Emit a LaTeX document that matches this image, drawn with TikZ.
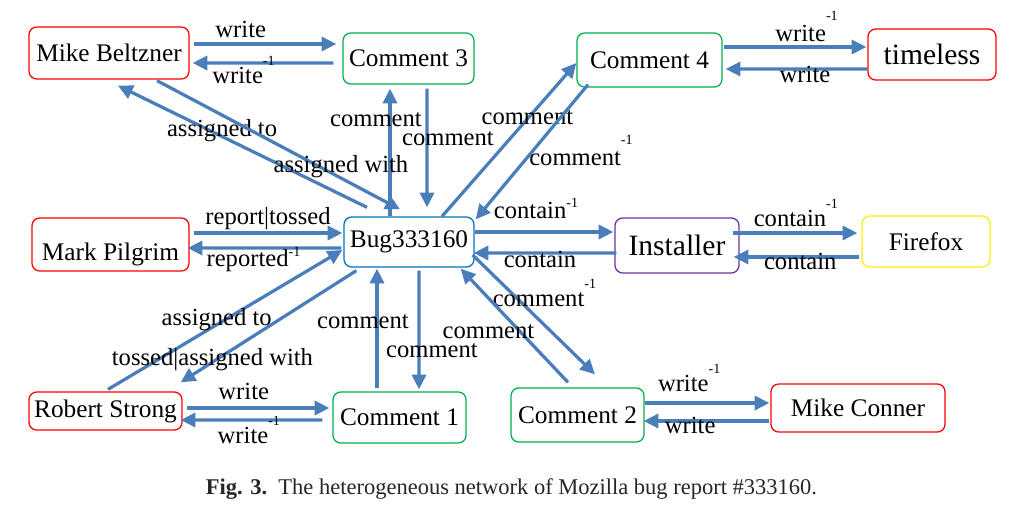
\documentclass[tikz,border=0pt]{standalone}
\usepackage{fontspec}
\setmainfont{Liberation Serif}
\usetikzlibrary{arrows.meta}

\definecolor{arrowblue}{RGB}{74,126,187}
\definecolor{boxred}{RGB}{255,0,0}
\definecolor{boxgreen}{RGB}{0,176,80}
\definecolor{boxpurple}{RGB}{112,48,160}
\definecolor{boxyellow}{RGB}{255,240,0}
\definecolor{boxblue}{RGB}{0,112,192}

% raised -1 after a label
\newcommand\inv[1][0.73em]{\rlap{\smash{\raisebox{#1}{\fontsize{10}{10}\selectfont -1}}}}

\begin{document}
\begin{tikzpicture}[x=0.025cm,y=-0.025cm,
  box/.style={draw,rounded corners=5.5pt,line width=0.9pt,inner sep=1pt,font=\fontsize{18}{20}\selectfont},
  big/.style={font=\fontsize{21}{23}\selectfont},
  lbl/.style={inner sep=0pt,font=\fontsize{17.5}{19}\selectfont},
  arr/.style={draw=arrowblue,line width=2.3pt,-{Triangle[length=10.5pt,width=10pt]}}]

\useasboundingbox (0,0) rectangle (1012,512);

% People
\node[box,draw=boxred,minimum width=4cm,minimum height=1.3cm] (mb) at (109,53) {Mike Beltzner};
\node[box,draw=boxred,big,minimum width=3.2cm,minimum height=1.275cm] (tl) at (932,54.5) {timeless};
\node[box,draw=boxred,minimum width=3.925cm,minimum height=1.325cm,text height=26pt,text depth=2.6pt] (mp) at (110.5,244.5) {Mark Pilgrim};
\node[box,draw=boxred,minimum width=3.825cm,minimum height=0.95cm] (rs) at (105.5,411) {Robert Strong};
\node[box,draw=boxred,minimum width=4.35cm,minimum height=1.2cm] (mc) at (858,408) {Mike Conner};

% Comments
\node[box,draw=boxgreen,minimum width=3.275cm,minimum height=1.275cm] (c3) at (408.5,58.5) {Comment 3};
\node[box,draw=boxgreen,minimum width=3.625cm,minimum height=1.35cm] (c4) at (649.5,60) {Comment 4};
\node[box,draw=boxgreen,minimum width=3.325cm,minimum height=1.275cm] (c1) at (399.5,417.5) {Comment 1};
\node[box,draw=boxgreen,minimum width=3.325cm,minimum height=1.35cm] (c2) at (577.5,415) {Comment 2};

% Bug, component, product
\node[box,draw=boxblue,minimum width=3.25cm,minimum height=1.25cm] (bug) at (409,242) {Bug333160};
\node[box,draw=boxpurple,big,minimum width=3.1cm,minimum height=1.375cm] (ins) at (677,245.5) {Installer};
\node[box,draw=boxyellow,minimum width=3.2cm,minimum height=1.275cm] (ff) at (926,241.5) {Firefox};

% Horizontal pairs
\draw[arr] ([shift={(4,-9)}]mb.east) -- node[lbl,pos=0.33,shift={(0,-15)}] {write} ([shift={(-6,-14.5)}]c3.west);
\draw[arr] ([shift={(-9,4.5)}]c3.west) -- node[lbl,pos=0.68,shift={(0,12)}] {write\inv} ([shift={(3,10)}]mb.east);
\draw[arr] ([shift={(1,-13)}]c4.east) -- node[lbl,pos=0.54,shift={(0,-14)}] {write\inv[0.85em]} ([shift={(-1,-7.5)}]tl.west);
\draw[arr] ([shift={(0,14.5)}]tl.west) -- node[lbl,pos=0.44,shift={(0,5)}] {write} ([shift={(3,9)}]c4.east);
\draw[arr] ([shift={(4,-11.5)}]mp.east) -- node[lbl,pos=0.5,shift={(0,-14)}] {report|tossed} ([shift={(-1,-9)}]bug.west);
\draw[arr] ([shift={(-2,6)}]bug.west) -- node[lbl,pos=0.61,shift={(0,13)}] {reported\inv[0.42em]} ([shift={(-2,3.5)}]mp.east);
\draw[arr] ([shift={(0,-10)}]bug.east) -- node[lbl,pos=0.4,shift={(0,-22)}] {contain\inv[0.42em]} ([shift={(-1,-13.5)}]ins.west);
\draw[arr] ([shift={(2,7.5)}]ins.west) -- node[lbl,pos=0.535,shift={(0,6)}] {contain} ([shift={(-1,11)}]bug.east);
\draw[arr] ([shift={(-7,-12.5)}]ins.east) -- node[lbl,pos=0.46,shift={(0,-15)}] {contain\inv} ([shift={(-4,-8.5)}]ff.west);
\draw[arr] ([shift={(-2,15.5)}]ff.west) -- node[lbl,pos=0.47,shift={(0,4)}] {contain} ([shift={(-6,11.5)}]ins.east);
\draw[arr] ([shift={(4,-3)}]rs.east) -- node[lbl,pos=0.4,shift={(0,-17)}] {write} ([shift={(-3,-9.5)}]c1.west);
\draw[arr] ([shift={(-10,2.5)}]c1.west) -- node[lbl,pos=0.56,shift={(0,15)}] {write\inv} ([shift={(-2,9)}]rs.east);
\draw[arr] ([shift={(0,-12)}]c2.east) -- node[lbl,pos=0.31,shift={(0,-20)}] {write\inv} ([shift={(-1,-5)}]mc.west);
\draw[arr] ([shift={(-1,13)}]mc.west) -- node[lbl,pos=0.63,shift={(0,4)}] {write} ([shift={(-1,6)}]c2.east);

% Around the bug
\draw[arr] ([shift={(-19,0)}]bug.north) -- node[lbl,pos=0.76,shift={(-14,0)}] {comment} ([shift={(-18.5,4)}]c3.south);
\draw[arr] ([shift={(18.5,4)}]c3.south) -- node[lbl,pos=0.42,shift={(21,0)}] {comment} ([shift={(18,-9)}]bug.north);
\draw[arr] ([shift={(33,0)}]bug.north) -- node[lbl,pos=0.643,shift={(-1,0)}] {comment} ([shift={(0,3)}]c4.west);
\draw[arr] ([shift={(-61.5,-3)}]c4.south) -- node[lbl,pos=0.551,shift={(49,0)}] {comment\inv[0.85em]} ([shift={(1,3)}]bug.north east);
\draw[arr] ([shift={(-42,-9)}]bug.north) -- node[lbl,pos=0.582,shift={(0,-6)}] {assigned to} ([shift={(9,6)}]mb.south);
\draw[arr] ([shift={(48,1)}]mb.south) -- node[lbl,pos=0.757,shift={(0,-11)}] {assigned with} ([shift={(-9,-7)}]bug.north);
\draw[arr] ([shift={(-22.5,-3)}]c1.north) -- node[lbl,pos=0.554,shift={(-14,0)}] {comment} ([shift={(-32,1)}]bug.south);
\draw[arr] ([shift={(10,3)}]bug.south) -- node[lbl,pos=0.675,shift={(13,0)}] {comment} ([shift={(19.5,-2)}]c1.north);
\draw[arr] ([shift={(-2,13)}]bug.east) -- node[lbl,pos=0.375,shift={(20,0)}] {comment\inv} ([shift={(17.5,-13)}]c2.north);
\draw[arr] ([shift={(-9.5,-5)}]c2.north) -- node[lbl,pos=0.443,shift={(-32,0)}] {comment} ([shift={(-14,1)}]bug.south east);
\draw[arr] ([shift={(2.5,-2)}]rs.north) -- node[lbl,pos=0.464,shift={(0,-5)}] {assigned to} ([shift={(-1,8)}]bug.west);
\draw[arr] ([shift={(13,3)}]bug.south west) -- node[lbl,pos=0.819,shift={(0,-2.5)}] {tossed|assigned with} ([shift={(-2,-9)}]rs.north east);

% Caption
\node[font=\fontsize{16}{18}\selectfont,text=black!85] (cap) at (511.5,489)
  {\textbf{Fig. 3.}\enspace The heterogeneous network of Mozilla bug report \#333160.};

\end{tikzpicture}
\end{document}
